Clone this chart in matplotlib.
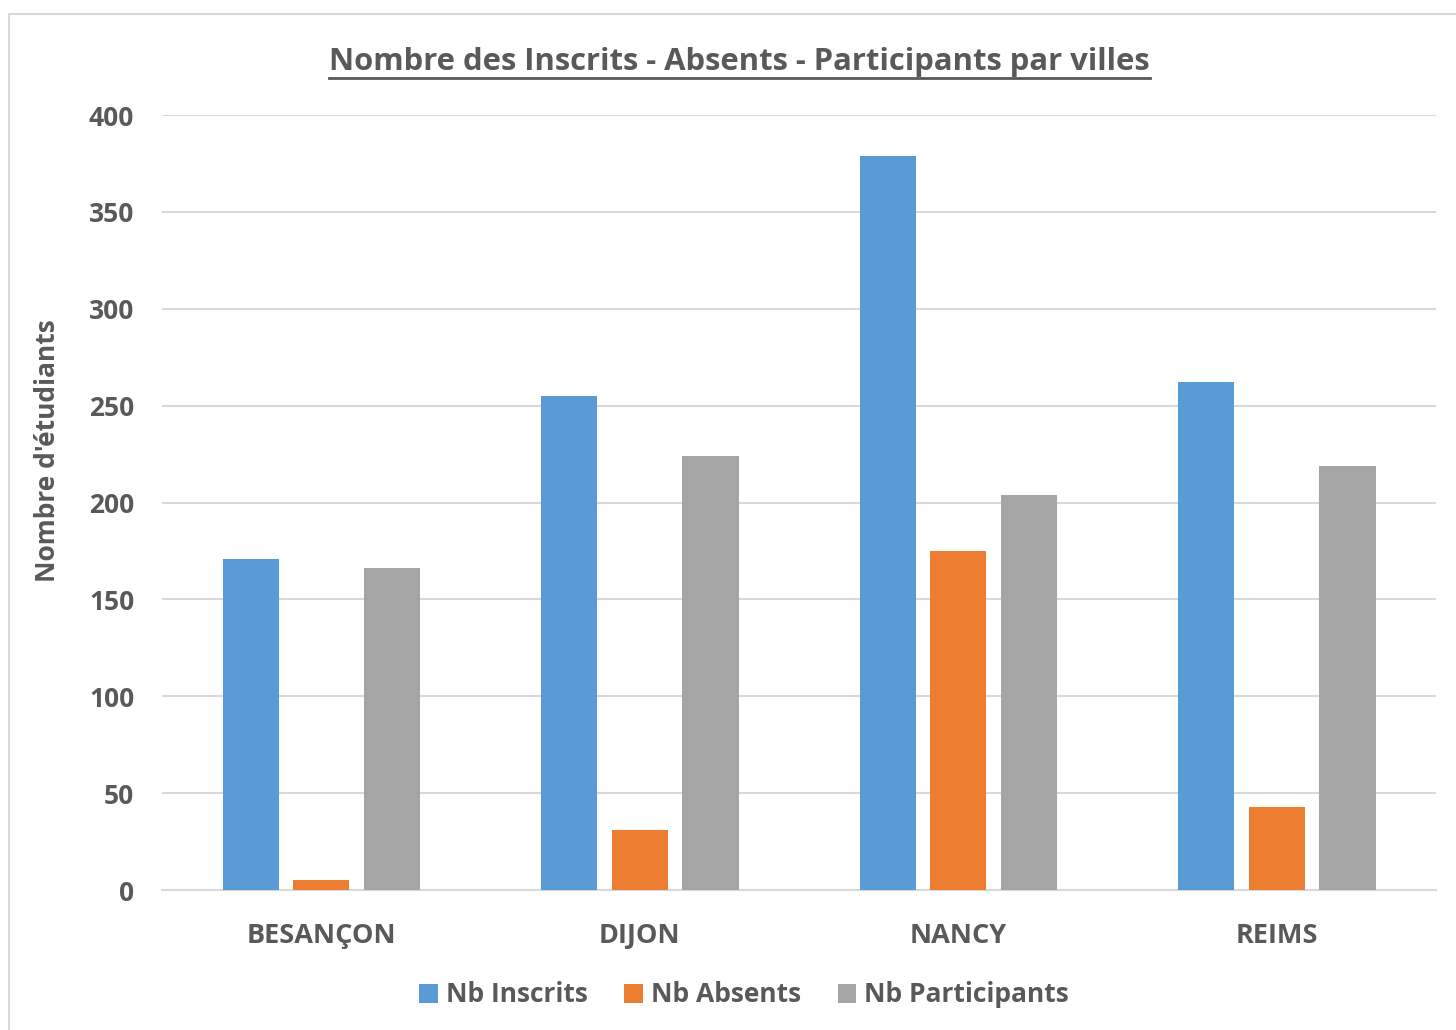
import numpy as np
import matplotlib
matplotlib.use("Agg")
import matplotlib.pyplot as plt
from matplotlib.patches import Rectangle
from matplotlib.lines import Line2D

# Donnees
villes = ["BESANÇON", "DIJON", "NANCY", "REIMS"]
nb_inscrits = [171, 255, 379, 262]
nb_absents = [5, 31, 175, 43]
nb_participants = [166, 224, 204, 219]

series = [("Nb Inscrits", nb_inscrits, "#5b9bd5"),
          ("Nb Absents", nb_absents, "#ed7d31"),
          ("Nb Participants", nb_participants, "#a5a5a5")]

plt.rcParams["font.family"] = ["Open Sans", "DejaVu Sans"]
gris_texte = "#595959"

fig = plt.figure(figsize=(14.56, 10.30), dpi=100)
ax = fig.add_axes([0.1113, 0.1359, 0.8750, 0.7524])

# cadre gris clair autour du graphique
fig.patches.append(Rectangle((9 / 1456, -0.01), 1.0, (1030 - 14) / 1030 + 0.01,
                             transform=fig.transFigure, fill=False,
                             edgecolor="#d9d9d9", linewidth=1.5))

x = np.arange(len(villes))
largeur = 0.176
pas = 0.222
for i, (nom, valeurs, couleur) in enumerate(series):
    ax.bar(x + (i - 1) * pas, valeurs, largeur, color=couleur, label=nom, zorder=3)

ax.set_xlim(-0.5, len(villes) - 0.5)
ax.set_ylim(0, 400)
ax.set_yticks(range(0, 401, 50))
ax.set_xticks(x)
ax.set_xticklabels(villes)
ax.grid(axis="y", color="#d9d9d9", linewidth=1.5, zorder=0)
for cote in ["top", "right", "left"]:
    ax.spines[cote].set_visible(False)
ax.spines["bottom"].set_color("#d9d9d9")
ax.spines["bottom"].set_linewidth(1.5)
ax.tick_params(length=0, labelcolor=gris_texte)
ax.tick_params(axis="y", pad=20, labelsize=19)
ax.tick_params(axis="x", pad=24, labelsize=19.5)
for lab in ax.get_xticklabels() + ax.get_yticklabels():
    lab.set_fontweight("bold")

# titre de l'axe y, place a la main (un peu au-dessus du centre)
fig.text(48 / 1456, 1 - 451 / 1030, "Nombre d'étudiants", rotation=90,
         ha="center", va="center", fontsize=19, fontweight="bold", color=gris_texte)

titre = fig.text(0.508, 1 - 62 / 1030, "Nombre des Inscrits - Absents - Participants par villes",
                 ha="center", va="center", fontsize=22.3, fontweight="bold", color=gris_texte)

# soulignement du titre
fig.canvas.draw()
bb = titre.get_window_extent().transformed(fig.transFigure.inverted())
y_ligne = bb.y0 - 0.001
fig.add_artist(Line2D([bb.x0, bb.x1], [y_ligne, y_ligne], transform=fig.transFigure,
                      color=gris_texte, linewidth=2))

leg = fig.legend(loc="center", bbox_to_anchor=(0.511, 1 - 995 / 1030), ncol=3, frameon=False,
                 fontsize=19, handlelength=0.7, handleheight=0.7, handletextpad=0.3,
                 columnspacing=1.4)
for t in leg.get_texts():
    t.set_color(gris_texte)
    t.set_fontweight("bold")

fig.savefig("out.png", dpi=100)
